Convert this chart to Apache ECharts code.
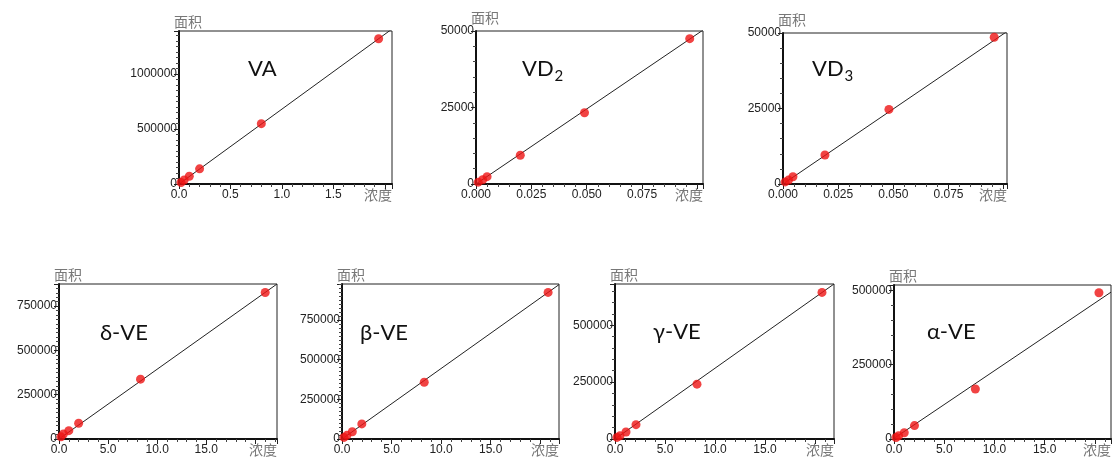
<!DOCTYPE html>
<html><head><meta charset="utf-8">
<script src="https://cdn.jsdelivr.net/npm/echarts@6/dist/echarts.min.js"></script>
<style>html,body{margin:0;padding:0;background:#fff}#c{width:1112px;height:457px}</style>
</head><body><div id="c"></div>
<script>
// ---- data ----
const yAxisName = '面积';
const xAxisName = '浓度';
const titleMain = ['VA', 'VD', 'VD', 'δ-VE', 'β-VE', 'γ-VE', 'α-VE'];
const titleSub  = ['', '2', '3', '', '', '', ''];

const concVA = [0.02, 0.05, 0.1, 0.2, 0.8, 1.94];
const areaVA = [14000, 36000, 70000, 138000, 548000, 1320000];
const concVD2 = [0.001, 0.003, 0.005, 0.02, 0.049, 0.0965];
const areaVD2 = [600, 1400, 2400, 9400, 23300, 47500];
const concVD3 = [0.001, 0.0025, 0.0045, 0.019, 0.048, 0.0957];
const areaVD3 = [700, 1300, 2400, 9600, 24700, 48600];
const concDVE = [0.2, 0.45, 1.0, 2.0, 8.3, 21.0];
const areaDVE = [12000, 28000, 47000, 89000, 338000, 827000];
const concBVE = [0.2, 0.5, 1.04, 2.0, 8.3, 20.8];
const areaBVE = [10000, 23000, 46000, 95000, 358000, 924000];
const concGVE = [0.2, 0.5, 1.1, 2.1, 8.2, 20.7];
const areaGVE = [7000, 14500, 31000, 63000, 241000, 644000];
const concAVE = [0.2, 0.46, 1.02, 2.04, 8.1, 20.4];
const areaAVE = [5000, 11000, 21000, 45000, 168000, 492000];

// calibration lines (start / end points)
const fitVA  = [[0, 0], [2.07, 1408000]];
const fitVD2 = [[0, 0], [0.1025, 50300]];
const fitVD3 = [[0, 0], [0.1015, 50500]];
const fitDVE = [[0, 0], [22.2, 875000]];
const fitBVE = [[0, 0], [21.9, 973000]];
const fitGVE = [[0, 0], [21.9, 681000]];
const fitAVE = [[0, 2000], [21.6, 494000]];

// tick labels
const xTicksVA = ['0.0', '0.5', '1.0', '1.5'];
const yTicksVA = ['0', '500000', '1000000'];
const xTicksVD = ['0.000', '0.025', '0.050', '0.075'];
const yTicksVD = ['0', '25000', '50000'];
const xTicksVE = ['0.0', '5.0', '10.0', '15.0'];
const yTicksVE4 = ['0', '250000', '500000', '750000'];
const yTicksVE3 = ['0', '250000', '500000'];

// ---- layout ----
const panels = [
  {conc: concVA, area: areaVA, fit: fitVA, xt: xTicksVA, yt: yTicksVA, xi: 0.5, yi: 500000, xMax: 2.07, yMax: 1390000, xs: 5, ys: 10,
   grid: {left: 179, top: 31, width: 213, height: 153}, tx: 248, ty: 78},
  {conc: concVD2, area: areaVD2, fit: fitVD2, xt: xTicksVD, yt: yTicksVD, xi: 0.025, yi: 25000, xMax: 0.1025, yMax: 50000, xs: 5, ys: 5,
   grid: {left: 476, top: 31, width: 227, height: 153}, tx: 522, ty: 78},
  {conc: concVD3, area: areaVD3, fit: fitVD3, xt: xTicksVD, yt: yTicksVD, xi: 0.025, yi: 25000, xMax: 0.1015, yMax: 50000, xs: 5, ys: 5,
   grid: {left: 783, top: 33, width: 224, height: 151}, tx: 812, ty: 78},
  {conc: concDVE, area: areaDVE, fit: fitDVE, xt: xTicksVE, yt: yTicksVE4, xi: 5, yi: 250000, xMax: 22.2, yMax: 875000, xs: 5, ys: 10,
   grid: {left: 59, top: 284, width: 218, height: 155}, tx: 100, ty: 342},
  {conc: concBVE, area: areaBVE, fit: fitBVE, xt: xTicksVE, yt: yTicksVE4, xi: 5, yi: 250000, xMax: 21.9, yMax: 977000, xs: 5, ys: 10,
   grid: {left: 342, top: 284, width: 217, height: 155}, tx: 360, ty: 342},
  {conc: concGVE, area: areaGVE, fit: fitGVE, xt: xTicksVE, yt: yTicksVE3, xi: 5, yi: 250000, xMax: 21.9, yMax: 681000, xs: 5, ys: 5,
   grid: {left: 615, top: 284, width: 219, height: 155}, tx: 653, ty: 341},
  {conc: concAVE, area: areaAVE, fit: fitAVE, xt: xTicksVE, yt: yTicksVE3, xi: 5, yi: 250000, xMax: 21.6, yMax: 518000, xs: 5, ys: 5,
   grid: {left: 894, top: 285, width: 217, height: 154}, tx: 927, ty: 341}
];

const labelFont = {color: '#222', fontSize: 12, fontFamily: 'Liberation Sans'};
const nameFont = {color: '#777', fontSize: 14, fontFamily: 'Noto Sans CJK SC'};

function fmt(list) {
  return function (v) {
    for (const s of list) { if (Math.abs(parseFloat(s) - v) < 1e-9) return s; }
    return '';
  };
}

const grids = [], xAxes = [], yAxes = [], series = [], graphics = [];
panels.forEach((p, i) => {
  grids.push(Object.assign({show: true, borderColor: '#222', borderWidth: 1, backgroundColor: '#fff'}, p.grid));
  xAxes.push({
    gridIndex: i, type: 'value', min: 0, max: p.xMax, interval: p.xi,
    name: xAxisName, nameLocation: 'end', nameGap: 0,
    nameTextStyle: Object.assign({align: 'right', verticalAlign: 'top', padding: [4, 0, 0, 0]}, nameFont),
    axisLine: {show: true, onZero: false, lineStyle: {color: '#111', width: 2}},
    axisTick: {show: true, length: 5, lineStyle: {color: '#222'}},
    minorTick: {show: true, splitNumber: p.xs, length: 3, lineStyle: {color: '#444'}},
    axisLabel: Object.assign({margin: 5, formatter: fmt(p.xt), showMaxLabel: false}, labelFont),
    splitLine: {show: false}
  });
  yAxes.push({
    gridIndex: i, type: 'value', min: 0, max: p.yMax, interval: p.yi,
    name: yAxisName, nameLocation: 'end', nameGap: 2,
    nameTextStyle: Object.assign({align: 'center', padding: [0, 0, 0, 18]}, nameFont),
    axisLine: {show: true, onZero: false, lineStyle: {color: '#111', width: 2}},
    axisTick: {show: true, length: 5, lineStyle: {color: '#222'}},
    minorTick: {show: true, splitNumber: p.ys, length: 3, lineStyle: {color: '#444'}},
    axisLabel: Object.assign({margin: 2, formatter: fmt(p.yt)}, labelFont),
    splitLine: {show: false}
  });
  series.push({
    type: 'line', xAxisIndex: i, yAxisIndex: i, data: p.fit, symbol: 'none',
    lineStyle: {color: '#222', width: 1}, clip: true, silent: true, z: 2
  });
  series.push({
    type: 'scatter', xAxisIndex: i, yAxisIndex: i,
    data: p.conc.map((c, k) => [c, p.area[k]]),
    symbolSize: 9, itemStyle: {color: '#ee1414'}, z: 3, clip: false
  });
  graphics.push({
    type: 'text', left: p.tx, top: p.ty - 20, z: 10,
    style: {text: titleMain[i], fontSize: 22, fontFamily: 'Lato', fill: '#111'}
  });
});

const chart = echarts.init(document.getElementById('c'), null, {renderer: 'canvas'});
chart.setOption({
  backgroundColor: '#fff',
  animation: false,
  grid: grids, xAxis: xAxes, yAxis: yAxes, series: series,
  graphic: graphics
});

// subscripts placed right after their main title text
const extra = [];
panels.forEach((p, i) => {
  if (!titleSub[i]) return;
  const w = echarts.format.getTextRect ? echarts.format.getTextRect(titleMain[i], '22px Lato').width : 29;
  extra.push({
    type: 'text', left: p.tx + w + 1, top: p.ty - 9, z: 10,
    style: {text: titleSub[i], fontSize: 15, fontFamily: 'Lato', fill: '#111'}
  });
});
chart.setOption({graphic: graphics.concat(extra)});
</script>
</body></html>
